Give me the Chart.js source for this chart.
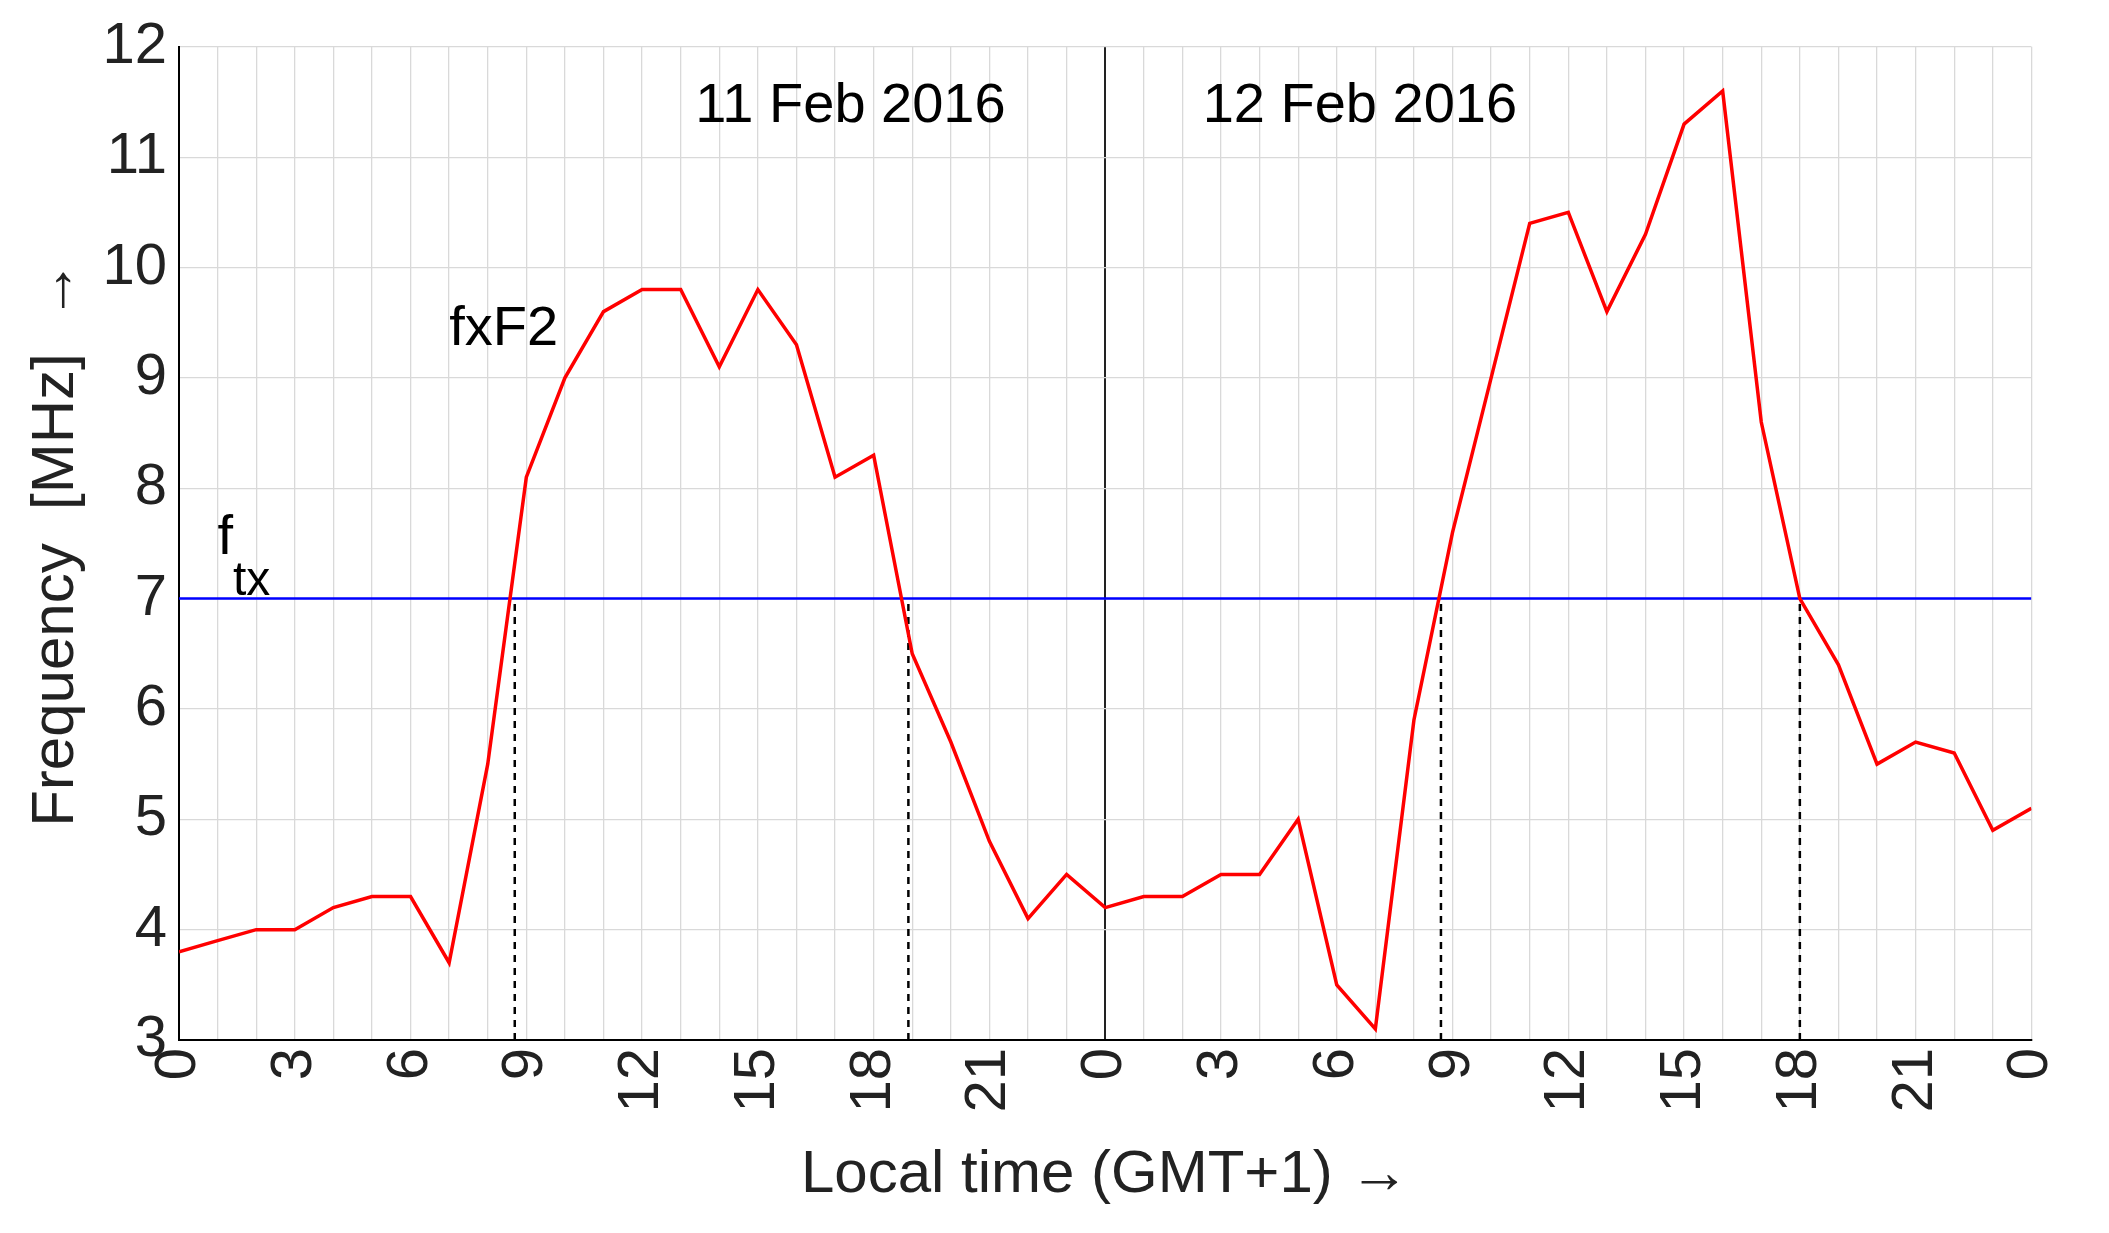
<!DOCTYPE html>
<html><head><meta charset="utf-8">
<script src="https://cdn.jsdelivr.net/npm/chart.js@4"></script>
<style>html,body{margin:0;padding:0;background:#fff}#w{width:2109px;height:1233px}</style>
</head><body><div id="w"><canvas id="c"></canvas></div>
<script>
const hours = [0,1,2,3,4,5,6,7,8,9,10,11,12,13,14,15,16,17,18,19,20,21,22,23,24,25,26,27,28,29,30,31,32,33,34,35,36,37,38,39,40,41,42,43,44,45,46,47,48];
const fxF2 = [3.8,3.9,4.0,4.0,4.2,4.3,4.3,3.7,5.5,8.1,9.0,9.6,9.8,9.8,9.1,9.8,9.3,8.1,8.3,6.5,5.7,4.8,4.1,4.5,4.2,4.3,4.3,4.5,4.5,5.0,3.5,3.1,5.9,7.6,9.0,10.4,10.5,9.6,10.3,11.3,11.6,8.6,7.0,6.4,5.5,5.7,5.6,4.9,5.1];
const ftx = 7;
const crossings = [8.7, 18.9, 32.7, 42.0];
const xTickLabels = ['0','3','6','9','12','15','18','21','0','3','6','9','12','15','18','21','0'];
const dayLabels = ['11 Feb 2016','12 Feb 2016'];
const FONT = '"Liberation Sans", Arial, sans-serif';

const datasets = [
  {data: hours.map((h,i)=>({x:h,y:fxF2[i]})), borderColor:'#ff0000', borderWidth:3.5, pointRadius:0, tension:0},
  {data:[{x:0,y:ftx},{x:48,y:ftx}], borderColor:'#0000ff', borderWidth:2.5, pointRadius:0}
];
crossings.forEach(c=>datasets.push({data:[{x:c,y:3},{x:c,y:ftx}], borderColor:'#000', borderWidth:2.5, borderDash:[7,6], pointRadius:0}));

const textPlugin = {id:'txt', afterDatasetsDraw(ch){
  const {ctx, scales:{x,y}} = ch;
  ctx.save(); ctx.fillStyle='#000'; ctx.textBaseline='alphabetic';
  ctx.font = '56px '+FONT; ctx.textAlign='center';
  ctx.fillText(dayLabels[0], x.getPixelForValue(17.4), y.getPixelForValue(11.32));
  ctx.fillText(dayLabels[1], x.getPixelForValue(30.6), y.getPixelForValue(11.32));
  ctx.textAlign='left';
  ctx.fillText('fxF2', x.getPixelForValue(7.0), y.getPixelForValue(9.3));
  ctx.fillText('f', x.getPixelForValue(1.0), y.getPixelForValue(7.4));
  ctx.font = '48px '+FONT;
  ctx.fillText('tx', x.getPixelForValue(1.4), y.getPixelForValue(7.03));
  ctx.restore();
}};

new Chart(document.getElementById('c'), {
  type:'line', data:{datasets}, plugins:[textPlugin],
  options:{responsive:true, maintainAspectRatio:false, animation:false,
    layout:{padding:{top:36,right:40,left:0,bottom:18}},
    plugins:{legend:{display:false}, tooltip:{enabled:false}},
    scales:{
      x:{type:'linear', min:0, max:48,
        afterFit(s){s.height=175;},
        grid:{color:c=>c.tick.value===24?'#222':'#d9d9d9', lineWidth:c=>c.tick.value===24?2:1.3, drawTicks:false},
        border:{color:'#000', width:2},
        ticks:{stepSize:1, autoSkip:false, maxRotation:90, minRotation:90, padding:8, color:'#222', font:{size:58, family:FONT},
          callback:v=> v%3===0 ? xTickLabels[v/3] : ''},
        title:{display:true, text:'Local time (GMT+1) \u2192', color:'#222', font:{size:60, family:FONT}, padding:{top:0}}
      },
      y:{min:3, max:12,
        afterFit(s){s.width=179;},
        grid:{color:'#d9d9d9', lineWidth:1.3, drawTicks:false},
        border:{color:'#000', width:2},
        ticks:{stepSize:1, padding:12, color:'#222', font:{size:58, family:FONT}},
        title:{display:true, text:'Frequency  [MHz]  \u2192', color:'#222', font:{size:60, family:FONT}, padding:{top:20,bottom:0}}
      }
    }
  }
});
Chart.register({id:'box', afterDraw(ch){const a=ch.chartArea,ctx=ch.ctx;ctx.save();ctx.strokeStyle='#000';ctx.lineWidth=2;ctx.strokeRect(a.left,a.top,a.right-a.left,a.bottom-a.top);ctx.restore();}});
</script></body></html>
